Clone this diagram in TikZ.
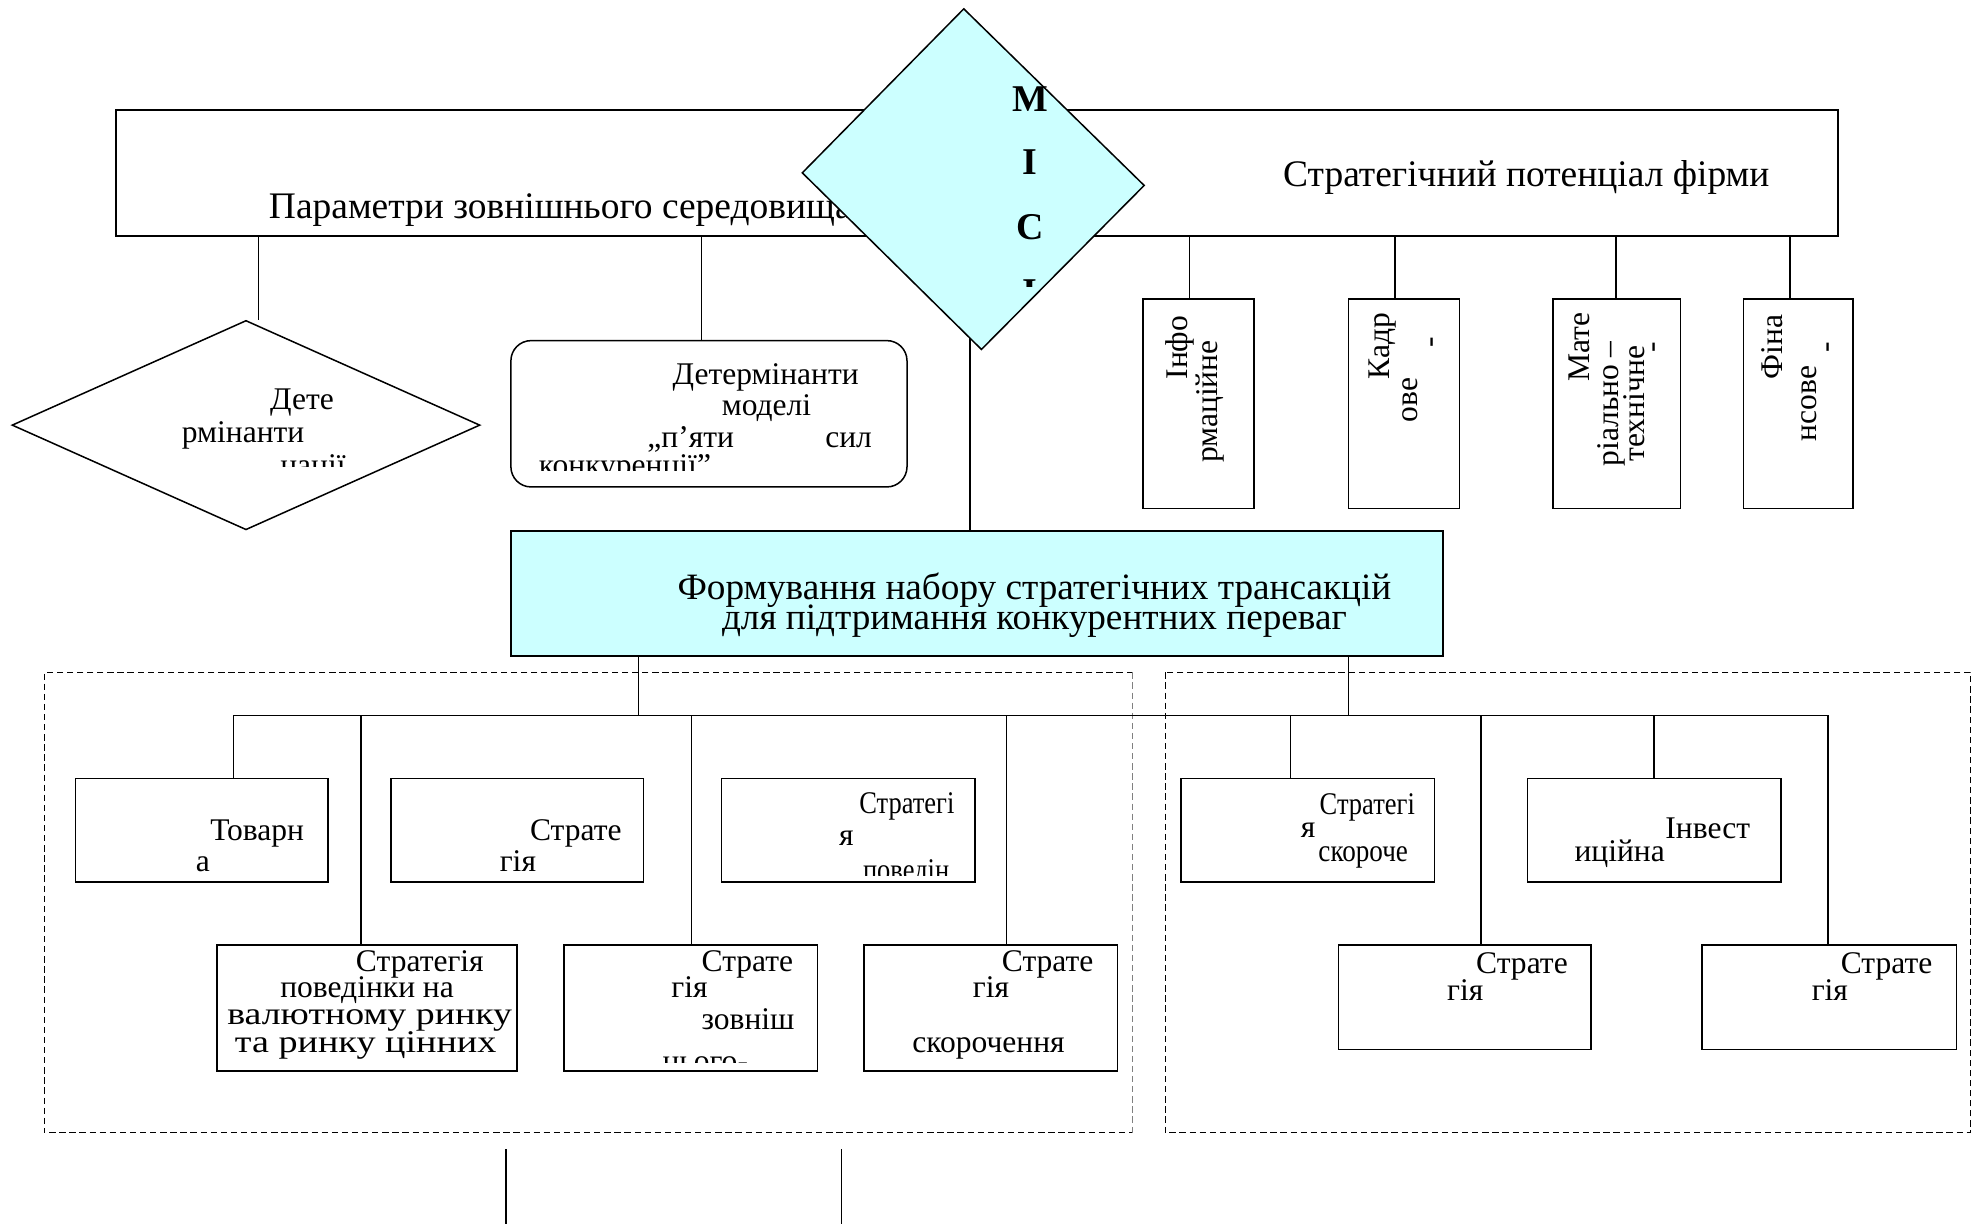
\documentclass[tikz,border=0pt]{standalone}
\usepackage{fontspec}
\setmainfont{Liberation Serif}
\usetikzlibrary{shapes.geometric}
\definecolor{lcyan}{HTML}{CCFFFF}
\begin{document}
\begin{tikzpicture}[x=1pt,y=-1pt,
  box/.style={draw, line width=1.2pt, inner sep=0pt},
  ln/.style={line width=1.2pt},
  txt/.style={anchor=base west, inner sep=0pt, font=\fontsize{25}{25}\selectfont},
  bigtxt/.style={anchor=base west, inner sep=0pt, font=\fontsize{29.7}{30}\selectfont},
  ctxt/.style={anchor=base, inner sep=0pt, font=\fontsize{29.5}{30}\selectfont},
  rtxt/.style={anchor=mid west, rotate=90, inner sep=0pt, font=\fontsize{25}{25}\selectfont},
  mici/.style={anchor=base, inner sep=0pt, font=\fontsize{30}{30}\selectfont\bfseries},
  dsh/.style={dash pattern=on 5pt off 3pt, line width=1pt}]
\useasboundingbox (0,0) rectangle (1568,970);
\fill[white] (0,0) rectangle (1568,970);

% top bar
\node[box, minimum width=1365pt, minimum height=100pt] (topbar) at (774.5,137) {};
\node[bigtxt] (tpar) at (213,173) {Параметри зовнішнього середовища};
\node[bigtxt] (tpot) at (1017,148) {Стратегічний потенціал фірми};

% cyan box
\node[box, fill=lcyan, minimum width=739pt, minimum height=99pt] (fset) at (774.5,470.5) {};
\node[ctxt] (tf1) at (820,475) {Формування набору стратегічних трансакцій};
\node[ctxt] (tf2) at (820,499) {для підтримання конкурентних переваг};

% central connector (behind diamond)
\draw[ln] ([xshift=-5.5pt]fset.north) -- ([xshift=-5.5pt]fset.north |- topbar.south);

% MICI diamond
\draw[line width=1.2pt, fill=lcyan] (764,7) -- (907,147) -- (778,277) -- (636,137) -- cycle;
\coordinate (micic) at (771,142);
\node[mici] (m1) at (816.5,88) {M};
\node[mici] (m2) at (816.5,138) {I};
\node[mici] (m3) at (816.5,190) {C};
\begin{scope}
\clip (790,200) rectangle (840,227);
\node[mici] (m4) at (816.5,241) {I};
\end{scope}

% left diamond
\node[draw, line width=1.2pt, diamond, inner sep=0pt, minimum width=371pt, minimum height=166pt] (ldia) at (195,337) {};
\node[txt] (td1) at (214,325) {Дете};
\node[txt] (td2) at (144,351) {рмінанти};
\begin{scope}
\clip (200,355) rectangle (300,370);
\node[txt] (td3) at (222,377) {нації};
\end{scope}
\draw[ln] ([xshift=10pt]ldia.north) -- ([xshift=10pt]ldia.north |- topbar.south);

% rounded box
\node[box, rounded corners=16pt, minimum width=314pt, minimum height=116pt] (rbox) at (562,328) {};
\node[txt] (tr1) at (533,305) {Детермінанти};
\node[txt] (tr2) at (572,329) {моделі};
\node[txt] (tr3) at (513,355) {„п’яти};
\node[txt] (tr4) at (654,355) {сил};
\begin{scope}
\clip (406,358) rectangle (718,373);
\node[txt] (tr5) at (427,377) {конкуренції”};
\end{scope}
\draw[ln] ([xshift=-6pt]rbox.north) -- ([xshift=-6pt]rbox.north |- topbar.south);

% vertical boxes
\node[box, minimum width=88pt, minimum height=166pt] (v1) at (950,320) {};
\node[box, minimum width=88pt, minimum height=166pt] (v2) at (1113,320) {};
\node[box, minimum width=101pt, minimum height=166pt] (v3) at (1281.5,320) {};
\node[box, minimum width=87pt, minimum height=166pt] (v4) at (1425.5,320) {};
\draw[ln] ([xshift=-7pt]v1.north) -- ([xshift=-7pt]v1.north |- topbar.south);
\draw[ln] ([xshift=-7pt]v2.north) -- ([xshift=-7pt]v2.north |- topbar.south);
\draw[ln] ([xshift=-0.5pt]v3.north) -- ([xshift=-0.5pt]v3.north |- topbar.south);
\draw[ln] ([xshift=-6.5pt]v4.north) -- ([xshift=-6.5pt]v4.north |- topbar.south);
\node[rtxt] (tv11) at (939,301) {Інфо};
\node[rtxt] (tv12) at (963,367) {рмаційне};
\node[rtxt] (tv21) at (1099,301) {Кадр};
\node[rtxt] (tv22) at (1121,335) {ове};
\node[rtxt, anchor=center] (tv23) at (1138,271) {-};
\node[rtxt] (tv31) at (1258,303) {Мате};
\node[rtxt] (tv32) at (1281,370) {ріально –};
\node[rtxt] (tv33) at (1301,366) {технічне};
\node[rtxt, anchor=center] (tv34) at (1314,275) {-};
\node[rtxt] (tv41) at (1411,301) {Фіна};
\node[rtxt] (tv42) at (1438,350) {нсове};
\node[rtxt, anchor=center] (tv43) at (1452,275) {-};

% dashed containers
\draw[dsh] (898,533) -- (35,533) -- (35,898) -- (898,898);
\draw[dsh, gray] (898,533) -- (898,898);
\draw[dsh] (924,533) rectangle (1562,898);

% bus
\coordinate (busL) at (185,567);
\coordinate (busR) at (1449,567);
\draw[ln] (busL) -- (busR);
\draw[ln] ([xshift=-268.5pt]fset.south) -- ([xshift=-268.5pt]fset.south |- busL);
\draw[ln] ([xshift=294.5pt]fset.south) -- ([xshift=294.5pt]fset.south |- busL);

% row 1
\node[box, minimum width=200pt, minimum height=82pt] (A) at (160,658) {};
\node[box, minimum width=200pt, minimum height=82pt] (B) at (410,658) {};
\node[box, minimum width=201pt, minimum height=82pt] (C) at (672.5,658) {};
\node[box, minimum width=201pt, minimum height=82pt] (D) at (1036.5,658) {};
\node[box, minimum width=201pt, minimum height=82pt] (E) at (1311.5,658) {};
% row 2
\node[box, minimum width=238pt, minimum height=100pt] (F) at (291,799) {};
\node[box, minimum width=201pt, minimum height=100pt] (G) at (547.5,799) {};
\node[box, minimum width=201pt, minimum height=100pt] (H) at (785.5,799) {};
\node[box, minimum width=200pt, minimum height=83pt] (I) at (1161,790.5) {};
\node[box, minimum width=202pt, minimum height=83pt] (J) at (1450,790.5) {};

% drops
\draw[ln] ([xshift=25pt]A.north) -- ([xshift=25pt]A.north |- busL);
\draw[ln] ([xshift=-5pt]F.north) -- ([xshift=-5pt]F.north |- busL);
\draw[ln] ([xshift=0.5pt]G.north) -- ([xshift=0.5pt]G.north |- busL);
\draw[ln] ([xshift=12.5pt]H.north) -- ([xshift=12.5pt]H.north |- busL);
\draw[ln] ([xshift=-13.5pt]D.north) -- ([xshift=-13.5pt]D.north |- busL);
\draw[ln] ([xshift=13pt]I.north) -- ([xshift=13pt]I.north |- busL);
\draw[ln] ([xshift=-0.5pt]E.north) -- ([xshift=-0.5pt]E.north |- busL);
\draw[ln] ([xshift=-1pt]J.north) -- ([xshift=-1pt]J.north |- busL);

% row 1 texts
\node[txt] (ta1) at (166.5,666) {Товарн};
\node[txt] (ta2) at (155,691) {а};
\node[txt] (tb1) at (420,666) {Страте};
\node[txt] (tb2) at (396,691) {гія};
\node[txt, xscale=0.84] (tc1) at (681,645) {Стратегі};
\node[txt] (tc2) at (665,670) {я};
\begin{scope}
\clip (600,680) rectangle (770,694);
\node[txt, xscale=0.84] (tc3) at (684,698) {поведін};
\end{scope}
\node[txt, xscale=0.84] (tdd1) at (1046,646) {Стратегі};
\node[txt] (tdd2) at (1031,664) {я};
\node[txt, xscale=0.86] (tdd3) at (1045,683) {скороче};
\node[txt] (te1) at (1320,665) {Інвест};
\node[txt] (te2) at (1248,683) {иційна};

% row 2 texts
\node[txt] (tf1a) at (282,770) {Стратегія};
\node[txt] (tf2a) at (222,791) {поведінки на};
\node[txt, xscale=1.2] (tf3a) at (180,812) {валютному ринку};
\begin{scope}
\clip (174,815) rectangle (408,839);
\node[txt, xscale=1.21] (tf4a) at (186,834) {та ринку цінних};
\end{scope}
\node[txt] (tg1) at (556,770) {Страте};
\node[txt] (tg2) at (532,791) {гія};
\node[txt] (tg3) at (556,816) {зовніш};
\begin{scope}
\clip (449,836) rectangle (646,842);
\node[txt] (tg4) at (525,849) {нього-};
\end{scope}
\node[txt] (th1) at (794,770) {Страте};
\node[txt] (th2) at (771,791) {гія};
\node[txt] (th3) at (723,834) {скорочення};
\node[txt] (ti1) at (1170,772) {Страте};
\node[txt] (ti2) at (1147,793) {гія};
\node[txt] (tj1) at (1459,772) {Страте};
\node[txt] (tj2) at (1436,793) {гія};

% bottom stubs
\coordinate (b1) at (401,911);
\coordinate (b2) at (667,911);
\draw[ln] (b1) -- (b1 |- 0,970);
\draw[ln] (b2) -- (b2 |- 0,970);
\end{tikzpicture}
\end{document}
